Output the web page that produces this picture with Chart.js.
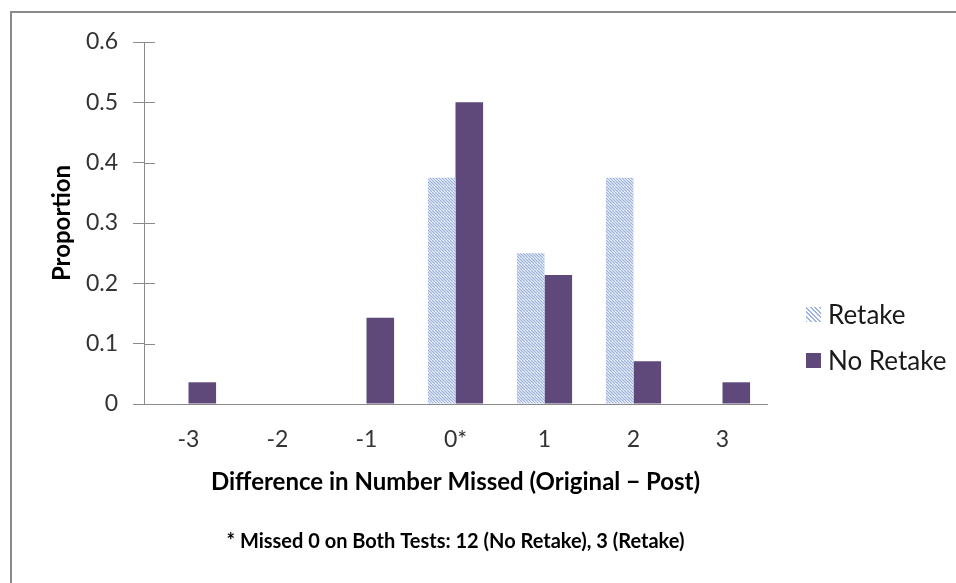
<!DOCTYPE html>
<html>
<head>
<meta charset="utf-8">
<script src="https://cdn.jsdelivr.net/npm/chart.js@4"></script>
<style>
  html, body { margin: 0; padding: 0; background: #fff; overflow: hidden; }
  #wrap { position: relative; width: 956px; height: 583px; }
  #frame { position: absolute; left: 10px; top: 11px; width: 960px; height: 600px; border: 2px solid #8a8a8a; box-sizing: border-box; }
  canvas { position: absolute; left: 0; top: 0; }
  #legend { position: absolute; left: 806px; top: 291px; font-family: Lato, sans-serif; font-size: 26px; color: #1a1a1a; }
  .item { display: flex; align-items: center; height: 46px; }
  .sw { width: 15px; height: 15px; margin-right: 7px; }
  .hatch { background: repeating-linear-gradient(45deg, #9db3da 0 1.4px, #ffffff 1.4px 3.2px); }
  .solid { background: #5F497A; }
</style>
</head>
<body>
<div id="wrap">
  <div id="frame"></div>
  <canvas id="c" width="956" height="583"></canvas>
  <div id="legend">
    <div class="item"><div class="sw hatch"></div><span>Retake</span></div>
    <div class="item"><div class="sw solid"></div><span>No Retake</span></div>
  </div>
</div>
<script>
const categories = ['-3', '-2', '-1', '0*', '1', '2', '3'];
const retake = [0, 0, 0, 0.375, 0.25, 0.375, 0];
const noRetake = [0.036, 0, 0.143, 0.5, 0.214, 0.071, 0.036];
const yTicks = [0, 0.1, 0.2, 0.3, 0.4, 0.5, 0.6];
const seriesNames = ['Retake', 'No Retake'];
const yTitle = 'Proportion';
const xTitle = 'Difference in Number Missed (Original \u2212 Post)';
const footnote = '* Missed 0 on Both Tests: 12 (No Retake), 3 (Retake)';

function makeHatch() {
  const s = 6;
  const p = document.createElement('canvas');
  p.width = s; p.height = s;
  const g = p.getContext('2d');
  g.fillStyle = '#ffffff';
  g.fillRect(0, 0, s, s);
  g.strokeStyle = '#9db3da';
  g.lineWidth = 1.3;
  for (let k = -2; k <= 2; k++) {
    g.beginPath();
    g.moveTo(k * 3, 0);
    g.lineTo(k * 3 + s, s);
    g.stroke();
  }
  return document.getElementById('c').getContext('2d').createPattern(p, 'repeat');
}

const FONT = 'Lato, sans-serif';

const innerTicks = {
  id: 'innerTicks',
  afterDatasetsDraw(chart) {
    const y = chart.scales.y, ctx = chart.ctx;
    ctx.save();
    ctx.strokeStyle = '#8a8a8a';
    ctx.lineWidth = 1;
    yTicks.forEach(v => {
      const py = Math.round(y.getPixelForValue(v)) + 0.5;
      ctx.beginPath();
      ctx.moveTo(y.right, py);
      ctx.lineTo(y.right + 11, py);
      ctx.stroke();
    });
    ctx.restore();
  }
};

const footnotePlugin = {
  id: 'footnote',
  afterDraw(chart) {
    const ctx = chart.ctx, a = chart.chartArea;
    ctx.save();
    ctx.font = 'bold 20px ' + FONT;
    ctx.fillStyle = '#000';
    ctx.textAlign = 'center';
    ctx.textBaseline = 'middle';
    ctx.fillText(footnote, (a.left + a.right) / 2, 542);
    ctx.restore();
  }
};

new Chart(document.getElementById('c'), {
  type: 'bar',
  data: {
    labels: categories,
    datasets: [
      { label: seriesNames[0], data: retake, backgroundColor: makeHatch(), borderWidth: 0 },
      { label: seriesNames[1], data: noRetake, backgroundColor: '#5F497A', borderWidth: 0 }
    ]
  },
  options: {
    responsive: false,
    animation: false,
    events: [],
    layout: { padding: { left: 10, top: 42, right: 189, bottom: 63 } },
    datasets: { bar: { categoryPercentage: 0.62, barPercentage: 1.0 } },
    plugins: {
      legend: { display: false },
      tooltip: { enabled: false },
      title: { display: false }
    },
    scales: {
      x: {
        type: 'category',
        offset: true,
        grid: { display: false },
        border: { display: true, color: '#8a8a8a', width: 1 },
        ticks: { color: '#333', font: { family: FONT, size: 23 }, padding: 14, maxRotation: 0 },
        title: { display: true, text: xTitle, color: '#000', font: { family: FONT, size: 24, weight: 'bold' }, padding: { top: 0, bottom: 23 } },
        afterFit(s) { s.height = 116; }
      },
      y: {
        min: 0, max: 0.6,
        afterBuildTicks(s) { s.ticks = yTicks.map(v => ({ value: v })); },
        grid: { display: true, drawOnChartArea: false, drawTicks: true, tickLength: 11, color: '#8a8a8a' },
        border: { display: true, color: '#8a8a8a', width: 1 },
        ticks: { color: '#333', font: { family: FONT, size: 23 }, padding: 15, callback: v => String(v) },
        title: { display: true, text: yTitle, color: '#000', font: { family: FONT, size: 24, weight: 'bold' }, padding: { top: 38, bottom: 0 } },
        afterFit(s) { s.width = 134; }
      }
    }
  },
  plugins: [innerTicks, footnotePlugin]
});
</script>
</body>
</html>
